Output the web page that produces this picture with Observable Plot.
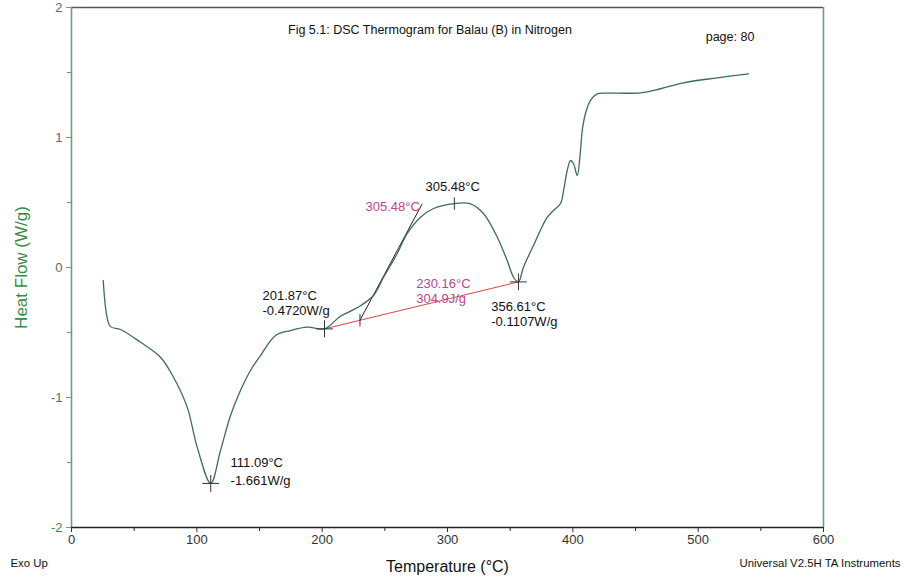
<!DOCTYPE html>
<html><head><meta charset="utf-8">
<script src="https://cdn.jsdelivr.net/npm/d3@7"></script>
<script src="https://cdn.jsdelivr.net/npm/@observablehq/plot@0.6"></script>
<style>body{margin:0;background:#fff} svg{display:block}</style>
</head><body><div id="chart"></div>
<script>
// DSC curve
const temperature = [25.3, 28.3, 31.1, 39.1, 55.1, 71.0, 81.4, 92.3, 100.3, 111.09, 118.9, 126.9, 134.8, 142.8, 150.8, 162.8, 174.7, 188.1, 201.87, 214.6, 228.2, 241.0, 248.9, 259.9, 267.9, 278.5, 288.8, 305.48, 318.4, 328.7, 339.7, 347.6, 352.7, 356.61, 360.6, 368.6, 379.6, 384.6, 390.2, 392.6, 395.5, 398.1, 400.5, 403.5, 406.1, 407.5, 410.1, 414.1, 419.5, 427.4, 454.0, 470.0, 488.3, 515.2, 540.2];
const heatFlow = [-0.100, -0.380, -0.455, -0.477, -0.575, -0.690, -0.844, -1.074, -1.382, -1.661, -1.408, -1.138, -0.946, -0.792, -0.677, -0.523, -0.485, -0.459, -0.472, -0.375, -0.308, -0.215, -0.077, 0.108, 0.262, 0.387, 0.454, 0.492, 0.490, 0.415, 0.233, 0.054, -0.075, -0.1107, 0.002, 0.169, 0.387, 0.438, 0.492, 0.592, 0.746, 0.823, 0.800, 0.708, 0.900, 1.054, 1.185, 1.285, 1.336, 1.341, 1.344, 1.375, 1.421, 1.459, 1.490];

// marked points (crosses)
const crossT = [111.09, 201.87, 356.61];
const crossHF = [-1.661, -0.472, -0.1107];
// baseline (integration limits)
const baseT = [201.87, 356.61];
const baseHF = [-0.472, -0.1107];
// tangent (onset construction)
const tangentT = [230.16, 279.8];
const tangentHF = [-0.406, 0.49];
// vertical tick marks: onset and peak
const tickT = [230.16, 305.48];
const tickHF = [-0.406, 0.492];

// black annotation labels
const blackLabels = ["111.09°C", "-1.661W/g", "201.87°C", "-0.4720W/g", "305.48°C", "356.61°C", "-0.1107W/g"];
const blackLabelT = [126.9, 126.9, 152.4, 152.4, 282.5, 334.9, 334.9];
const blackLabelHF = [-1.50, -1.638, -0.215, -0.331, 0.618, -0.305, -0.421];
// magenta annotation labels
const pinkLabels = ["305.48°C", "230.16°C", "304.9J/g"];
const pinkLabelT = [234.6, 275.0, 275.0];
const pinkLabelHF = [0.464, -0.125, -0.241];

const xTicks = [0, 100, 200, 300, 400, 500, 600];
const xMinor = [50, 150, 250, 350, 450, 550];
const yTicks = [-1, 0, 1, 2];
const yTickGreen = [-2];
const yMinor = [-1.5, -0.5, 0.5, 1.5];

const titleText = ["Fig 5.1: DSC Thermogram for Balau (B) in Nitrogen"];
const titleT = [286];
const titleHF = [1.825];
const pageText = ["page: 80"];
const pageT = [506];
const pageHF = [1.77];

const green = "#3b8a45";
const axisGreen = "#6f9d77";
const curveColor = "#3d6e52";
const pink = "#b9468f";

const vbar = {draw(ctx, size) { const r = Math.sqrt(size) / 2; ctx.moveTo(0, -r); ctx.lineTo(0, r); }};
const idx = (a) => a.map((_, i) => i);
const fmt = (d) => String(d);
const FF = "'Liberation Sans', Arial, sans-serif";

const chart = Plot.plot({
  width: 904, height: 580,
  marginLeft: 71, marginRight: 81, marginTop: 7, marginBottom: 53,
  style: {fontFamily: FF, background: "#fff", overflow: "visible"},
  x: {domain: [0, 600], axis: null},
  y: {domain: [-2, 2], axis: null},
  marks: [
    Plot.ruleY([2], {stroke: "#555", strokeWidth: 1.6}),
    Plot.ruleX([600], {stroke: axisGreen, strokeWidth: 1.6}),
    Plot.ruleX([0], {stroke: axisGreen, strokeWidth: 1.6}),
    Plot.ruleY([-2], {stroke: "#222", strokeWidth: 1.6}),
    Plot.axisY(yTicks, {tickSize: 5, tickPadding: 4, fontSize: 13, stroke: axisGreen, fill: "#666", tickFormat: fmt, label: null}),
    Plot.axisY(yTickGreen, {tickSize: 5, tickPadding: 4, fontSize: 13, stroke: axisGreen, fill: green, tickFormat: fmt, label: null}),
    Plot.axisY(yMinor, {tickSize: 4, tickFormat: () => "", stroke: axisGreen, label: null}),
    Plot.axisX(xTicks, {tickSize: 5, tickPadding: 2, fontSize: 13, stroke: "#333", fill: "#333", tickFormat: fmt, label: null}),
    Plot.axisX(xMinor, {tickSize: 4, tickFormat: () => "", stroke: "#333", label: null}),
    Plot.link([0], {x1: baseT[0], y1: baseHF[0], x2: baseT[1], y2: baseHF[1], stroke: "#dd4444", strokeWidth: 1}),
    Plot.link([0], {x1: tangentT[0], y1: tangentHF[0], x2: tangentT[1], y2: tangentHF[1], stroke: "#222", strokeWidth: 1}),
    Plot.line(idx(temperature), {x: temperature, y: heatFlow, curve: "catmull-rom", stroke: curveColor, strokeWidth: 1.3}),
    Plot.dot(idx(crossT), {x: crossT, y: crossHF, symbol: "plus", r: 5.5, stroke: "#333", strokeWidth: 1}),
    Plot.dot(idx(tickT), {x: tickT, y: tickHF, symbol: vbar, r: 7, stroke: "#333", strokeWidth: 1}),
    Plot.text(idx(blackLabels), {x: blackLabelT, y: blackLabelHF, text: blackLabels, textAnchor: "start", lineAnchor: "middle", fontSize: 13, fill: "#111"}),
    Plot.text(idx(pinkLabels), {x: pinkLabelT, y: pinkLabelHF, text: pinkLabels, textAnchor: "start", lineAnchor: "middle", fontSize: 13, fill: pink}),
    Plot.text(titleText, {x: titleT, y: titleHF, text: d => d, fontSize: 12.5, fill: "#111", lineAnchor: "middle"}),
    Plot.text(pageText, {x: pageT, y: pageHF, text: d => d, fontSize: 12.5, fill: "#111", textAnchor: "start", lineAnchor: "middle"}),
    Plot.text(["Temperature (°C)"], {frameAnchor: "bottom", dy: 39, text: d => d, fontSize: 16, fill: "#111", lineAnchor: "middle"}),
    Plot.text(["Exo Up"], {frameAnchor: "bottom-left", dx: -61, dy: 36, text: d => d, fontSize: 11.4, fill: "#111", textAnchor: "start", lineAnchor: "middle"}),
    Plot.text(["Universal V2.5H TA Instruments"], {frameAnchor: "bottom-right", dx: 77, dy: 36, text: d => d, fontSize: 11.4, fill: "#111", textAnchor: "end", lineAnchor: "middle"}),
    Plot.text(["Heat Flow (W/g)"], {frameAnchor: "left", dx: -50, dy: 0, rotate: -90, text: d => d, fontSize: 17, fill: green, textAnchor: "middle", lineAnchor: "middle"})
  ]
});
document.getElementById("chart").appendChild(chart);
</script>
</body></html>
